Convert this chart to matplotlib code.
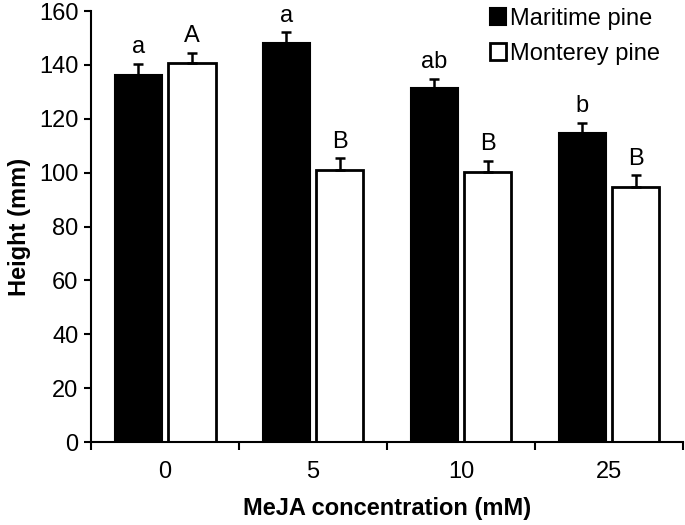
import numpy as np
import matplotlib
matplotlib.use('Agg')
from matplotlib import pyplot as plt
from matplotlib.patches import Patch

# data
conc_labels = ['0', '5', '10', '25']
maritime = [136.2, 148.0, 131.3, 114.8]
maritime_err = [4.3, 4.1, 3.6, 3.7]
monterey = [140.6, 101.0, 100.1, 94.8]
monterey_err = [4.0, 4.3, 4.3, 4.3]
maritime_letters = ['a', 'a', 'ab', 'b']
monterey_letters = ['A', 'B', 'B', 'B']

plt.rcParams['font.family'] = ['Liberation Sans', 'DejaVu Sans']
plt.rcParams['font.size'] = 17

fig = plt.figure(figsize=(6.85, 5.25), dpi=100)
ax = fig.add_axes([0.133, 0.158, 0.864, 0.821])

x = np.arange(len(conc_labels))
w = 0.318
off = 0.182
err_kw = dict(elinewidth=1.8, capthick=1.8, ecolor='black')

ax.bar(x - off, maritime, w, color='black', edgecolor='black', linewidth=1.5,
       yerr=[np.zeros(4), maritime_err], capsize=3.6, error_kw=err_kw, zorder=2)
ax.bar(x + off, monterey, w, color='white', edgecolor='black', linewidth=2,
       yerr=[np.zeros(4), monterey_err], capsize=3.6, error_kw=err_kw, zorder=2)

# significance letters
for i in range(len(x)):
    ax.annotate(maritime_letters[i], (x[i] - off, maritime[i] + maritime_err[i]),
                xytext=(0, 4), textcoords='offset points', ha='center', va='bottom')
    ax.annotate(monterey_letters[i], (x[i] + off, monterey[i] + monterey_err[i]),
                xytext=(0, 4), textcoords='offset points', ha='center', va='bottom')

ax.set_xlim(-0.5, 3.5)
ax.set_ylim(0, 160)
ax.set_yticks(np.arange(0, 161, 20))
ax.set_xticks(x)
ax.set_xticklabels(conc_labels)
ax.set_xticks(np.arange(-0.5, 3.6, 1), minor=True)
ax.tick_params(axis='x', which='major', length=0, pad=14)
ax.tick_params(axis='x', which='minor', length=6, width=1.5, direction='out')
ax.tick_params(axis='y', length=5, width=1.5, direction='out', pad=4)

for s in ['top', 'right']:
    ax.spines[s].set_visible(False)
for s in ['left', 'bottom']:
    ax.spines[s].set_linewidth(1.5)

ax.set_xlabel('MeJA concentration (mM)', fontweight='bold', labelpad=10)
ax.set_ylabel('Height (mm)', fontweight='bold', labelpad=6)

handles = [Patch(facecolor='black', edgecolor='black', linewidth=1.5),
           Patch(facecolor='white', edgecolor='black', linewidth=2)]
ax.legend(handles, ['Maritime pine', 'Monterey pine'], loc='upper right',
          bbox_to_anchor=(0.985, 1.04), frameon=False, handlelength=0.7,
          handleheight=0.7, handletextpad=0.15, labelspacing=0.55,
          borderaxespad=0.2)

fig.savefig('out.png', dpi=100)
